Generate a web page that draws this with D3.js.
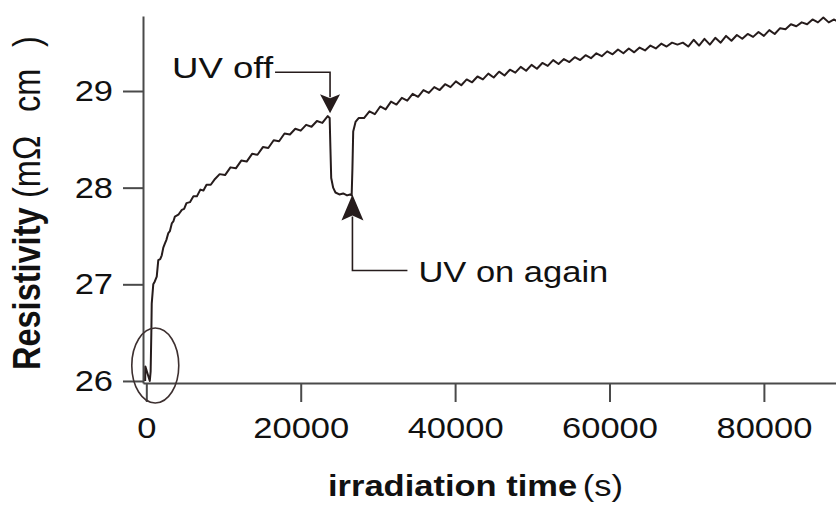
<!DOCTYPE html>
<html>
<head>
<meta charset="utf-8">
<script src="https://cdn.jsdelivr.net/npm/d3@7"></script>
<style>
  html, body { margin: 0; padding: 0; background: #fff; }
  svg { display: block; font-family: "Liberation Sans", Arial, sans-serif; }
</style>
</head>
<body>
<svg id="chart" width="836" height="509"></svg>
<script>
// ---- data ----
const timeSeconds = [
  -150, -120, 450, 560, 650, 700, 900, 1100, 1350, 1550, 1800, 2000, 2200, 2400, 2600, 2850, 3050, 3300, 3500, 3700,
  4150, 4600, 4900, 5200, 5650, 6100, 6550, 7000, 7400, 7800, 8350, 8900,
  9500, 10200, 10900, 11600, 12300, 13000, 13700, 14400, 15100, 15800, 16500, 17200, 17900, 18600, 19300, 20000,
  20700, 21400, 22100, 22800, 23500, 23750,
  23850, 23950, 24200, 24500, 25000, 25500, 26000, 26400, 26600, 26700, 26800, 27100, 27500,
  28200, 28900, 29600, 30300, 31000, 31700, 32400, 33100, 33800, 34500, 35200, 35900, 36600, 37300, 38000, 38700,
  39400, 40100, 40800, 41500, 42200, 42900, 43600, 44300, 45000, 45700, 46400, 47100, 47800, 48500, 49200, 49900,
  50600, 51300, 52000, 52700, 53400, 54100, 54800, 55500, 56200, 56900, 57600, 58300, 59000, 59700, 60400, 61100,
  61800, 62500, 63200, 63900, 64600, 65300, 66000, 66700, 67400, 68100, 68800, 69500, 70200, 70900, 71600, 72300,
  73000, 73700, 74400, 75100, 75800, 76500, 77200, 77900, 78600, 79300, 80000, 80700, 81400, 82100, 82800, 83500,
  84200, 84900, 85600, 86300, 87000, 87700, 88400, 89100, 89500
];
const resistivity = [
  26.00, 26.15, 26.00, 26.10, 26.50, 26.80, 27.00, 27.03, 27.08, 27.25, 27.26, 27.30, 27.38, 27.42, 27.46, 27.53, 27.55, 27.63, 27.65, 27.70,
  27.72, 27.77, 27.78, 27.84, 27.85, 27.91, 27.91, 27.98, 27.97, 28.03, 28.03, 28.09,
  28.14, 28.13, 28.21, 28.20, 28.28, 28.27, 28.35, 28.34, 28.42, 28.41, 28.49, 28.48, 28.56, 28.55, 28.61, 28.59,
  28.65, 28.63, 28.69, 28.67, 28.74, 28.72,
  28.40, 28.10, 28.00, 27.95, 27.93, 27.94, 27.92, 27.93, 27.92, 28.20, 28.58, 28.68, 28.72,
  28.72, 28.79, 28.76, 28.84, 28.81, 28.89, 28.86, 28.93, 28.90, 28.97, 28.94, 29.01, 28.98, 29.04, 29.01, 29.07,
  29.04, 29.10, 29.06, 29.12, 29.09, 29.15, 29.12, 29.18, 29.14, 29.20, 29.16, 29.22, 29.19, 29.25, 29.21, 29.27,
  29.23, 29.29, 29.26, 29.32, 29.28, 29.33, 29.30, 29.35, 29.32, 29.37, 29.34, 29.39, 29.36, 29.41, 29.38, 29.43,
  29.39, 29.44, 29.40, 29.45, 29.42, 29.47, 29.44, 29.49, 29.46, 29.50, 29.48, 29.50, 29.46, 29.53, 29.47, 29.54,
  29.48, 29.55, 29.50, 29.57, 29.52, 29.58, 29.54, 29.59, 29.56, 29.61, 29.57, 29.63, 29.59, 29.65, 29.64, 29.69,
  29.67, 29.71, 29.69, 29.74, 29.71, 29.76, 29.71, 29.74, 29.72
];
const xTickValues = [0, 20000, 40000, 60000, 80000];
const yTickValues = [26, 27, 28, 29];
const xTitleBold = "irradiation time";
const xTitleUnit = "(s)";
const yTitleBold = "Resistivity";
const yTitleUnitParts = ["(mΩ", "cm", ")"];
const annotationOff = { label: "UV off", t: 23800, r: 28.77 };
const annotationOn = { label: "UV on again", t: 26700, r: 27.93 };
const circledStart = { t: 1160, r: 26.16 };

// ---- drawing ----
const svg = d3.select("#chart");
const SX = 1.15;      // horizontal stretch of the original lettering
const FS = 30;
const ink = "#261c1c";
const axisColor = "#4a4a4a";

const x = d3.scaleLinear().domain([-430, 89340]).range([143, 836]);
const y = d3.scaleLinear().domain([25.979, 29.776]).range([383, 16]);

// x axis
const gx = svg.append("g").attr("transform", `translate(0,${y.range()[0]})`)
  .call(d3.axisBottom(x).tickValues(xTickValues).tickSize(19).tickSizeOuter(0).tickPadding(15).tickFormat(d3.format("d")));
// y axis
const gy = svg.append("g").attr("transform", `translate(${x.range()[0]},0)`)
  .call(d3.axisLeft(y).tickValues(yTickValues).tickSize(20).tickSizeOuter(0).tickPadding(10).tickFormat(d3.format("d")));

[gx, gy].forEach(g => {
  g.select(".domain").attr("stroke", axisColor).attr("stroke-width", 2);
  g.selectAll(".tick line").attr("stroke", axisColor).attr("stroke-width", 2);
  g.selectAll(".tick text").attr("fill", "#111").attr("font-size", FS)
    .attr("font-family", "Liberation Sans, Arial, sans-serif");
});
gx.selectAll(".tick text").attr("transform", `scale(${SX},1)`);
gy.selectAll(".tick text").attr("transform", `scale(${SX},1)`).attr("x", -30 / SX);

// curve
const pts = timeSeconds.map((t, i) => [t, resistivity[i]]);
svg.append("defs").append("clipPath").attr("id", "plotclip")
  .append("rect").attr("x", x.range()[0]).attr("y", 0).attr("width", 836 - x.range()[0]).attr("height", 509);
svg.append("path")
  .datum(pts)
  .attr("clip-path", "url(#plotclip)")
  .attr("fill", "none")
  .attr("stroke", ink)
  .attr("stroke-width", 2)
  .attr("stroke-linejoin", "round")
  .attr("d", d3.line().x(d => x(d[0])).y(d => y(d[1])));

// ellipse around the start
svg.append("ellipse")
  .attr("cx", x(circledStart.t)).attr("cy", y(circledStart.r))
  .attr("rx", 23.5).attr("ry", 37.5)
  .attr("fill", "none").attr("stroke", "#3d3030").attr("stroke-width", 1.6);

// UV off annotation
{
  const tx = x(annotationOff.t), ty = y(annotationOff.r);
  svg.append("path")
    .attr("d", `M${tx - 55},${ty - 41} H${tx} V${ty - 16}`)
    .attr("fill", "none").attr("stroke", ink).attr("stroke-width", 1.6);
  svg.append("path")
    .attr("d", `M${tx},${ty} L${tx - 10},${ty - 19} L${tx},${ty - 15} L${tx + 10},${ty - 19} Z`)
    .attr("fill", ink);
  svg.append("text")
    .attr("transform", `translate(${tx - 57},${ty - 35}) scale(1.22,1)`)
    .attr("text-anchor", "end").attr("font-size", FS).attr("fill", "#111")
    .text(annotationOff.label);
}
// UV on again annotation
{
  const tx = x(annotationOn.t), ty = y(annotationOn.r);
  svg.append("path")
    .attr("d", `M${tx},${ty + 22} V${ty + 76} H${tx + 55}`)
    .attr("fill", "none").attr("stroke", ink).attr("stroke-width", 1.6);
  svg.append("path")
    .attr("d", `M${tx},${ty} L${tx - 11},${ty + 26} L${tx},${ty + 21} L${tx + 11},${ty + 26} Z`)
    .attr("fill", ink);
  svg.append("text")
    .attr("transform", `translate(${tx + 66},${ty + 88}) scale(${SX},1)`)
    .attr("text-anchor", "start").attr("font-size", FS).attr("fill", "#111")
    .text(annotationOn.label);
}

// x title
const xt = svg.append("text")
  .attr("transform", `translate(328,496) scale(${SX},1)`)
  .attr("font-size", FS).attr("fill", "#111");
xt.append("tspan").attr("font-weight", "bold").text(xTitleBold);
xt.append("tspan").attr("dx", 5).text(xTitleUnit);

// y title (rotated)
svg.append("text")
  .attr("transform", `translate(40,370) scale(1.17,1) rotate(-90)`)
  .attr("font-size", 32.5).attr("font-weight", "bold").attr("fill", "#111")
  .text(yTitleBold);
const unitStarts = [198, 112, 47];
yTitleUnitParts.forEach((s, i) => {
  svg.append("text")
    .attr("transform", `translate(40,${unitStarts[i]}) scale(1.17,1) rotate(-90)`)
    .attr("font-size", 32.5).attr("fill", "#111")
    .text(s);
});
</script>
</body>
</html>
